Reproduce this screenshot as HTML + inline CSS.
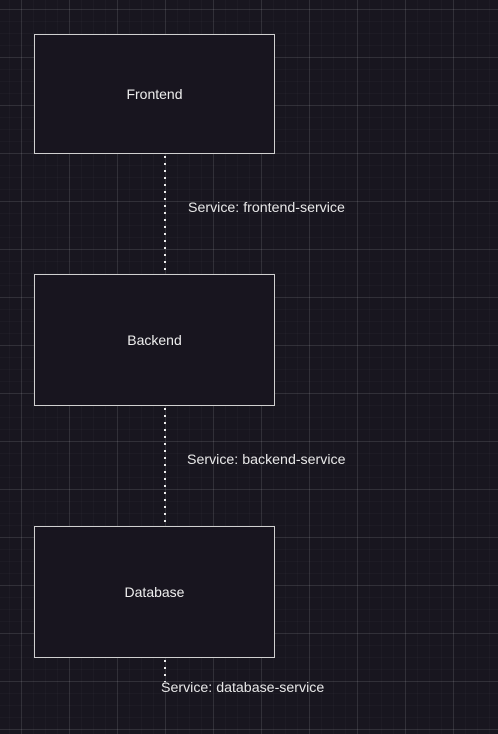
<!DOCTYPE html>
<html><head><style>
body{margin:0;width:498px;height:734px;overflow:hidden;background:#18161f;font-family:"Liberation Sans",sans-serif;}
.bg{position:absolute;left:0;top:0;width:498px;height:734px;
background-image:
linear-gradient(to right,rgba(255,255,255,0.09) 1px,transparent 1px),
linear-gradient(to bottom,rgba(255,255,255,0.09) 1px,transparent 1px),
linear-gradient(to right,rgba(255,255,255,0.025) 1px,transparent 1px),
linear-gradient(to bottom,rgba(255,255,255,0.025) 1px,transparent 1px);
background-size:48px 48px,48px 48px,12px 12px,12px 12px;
background-position:21px 9px,21px 9px,9px 9px,9px 9px;}
.box{position:absolute;left:34px;width:239px;border:1.5px solid #d0d0d0;background:#18151f;color:#eee;font-size:14px;display:flex;align-items:center;justify-content:center;}
.line{position:absolute;left:164px;width:2px;background-image:linear-gradient(to bottom,#eee 2px,transparent 2px);background-size:2px 7px;}
.lbl{position:absolute;color:#e8e8e8;font-size:14.2px;}
</style></head><body>
<div class="bg"></div>
<div class="line" style="top:156px;height:116px"></div>
<div class="line" style="top:408px;height:116px"></div>
<div class="line" style="top:660px;height:22px"></div>
<div class="box" style="top:34px;height:118px">Frontend</div>
<div class="box" style="top:274px;height:130px">Backend</div>
<div class="box" style="top:526px;height:130px">Database</div>
<div class="lbl" style="left:188px;top:200px">Service: frontend-service</div>
<div class="lbl" style="left:187px;top:452px">Service: backend-service</div>
<div class="lbl" style="left:161px;top:680px">Service: database-service</div>
</body></html>
